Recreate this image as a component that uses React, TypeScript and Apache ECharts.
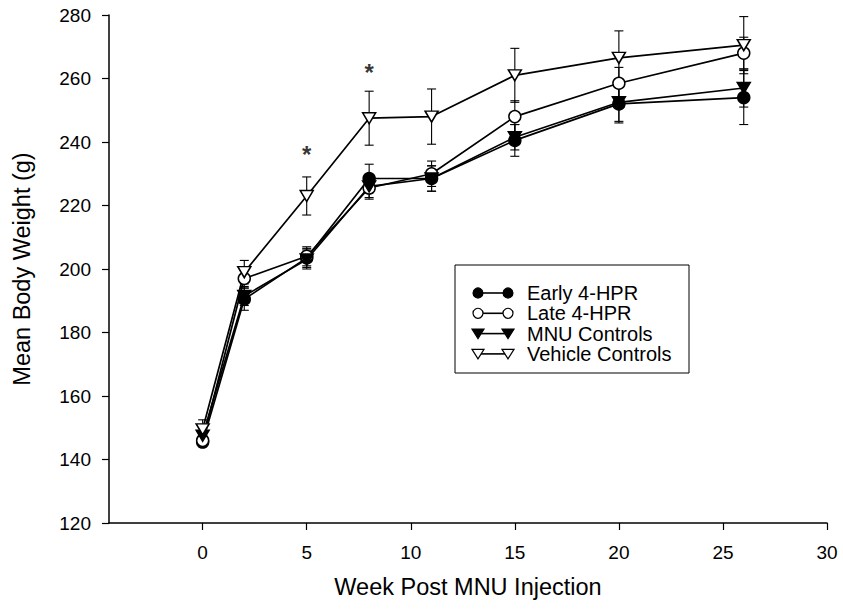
import React, { useEffect, useRef } from 'react';
import * as echarts from 'echarts';

// Weeks post MNU injection
const weeks = [0, 2, 5, 8, 11, 15, 20, 26];

// Mean body weight (g) and error bar half-lengths
const early = [145.5, 190.5, 203.5, 228.5, 228.5, 240.5, 252, 254];
const earlyErr = [1.5, 3.5, 3, 4.5, 4, 5, 6, 8.5];
const late = [146, 197, 204, 225.5, 230, 248, 258.5, 268];
const lateErr = [1.5, 3, 3, 3.5, 4, 5, 5, 5];
const mnu = [147.5, 191.5, 203, 226, 228.5, 241.5, 252.5, 257];
const mnuErr = [1.5, 3, 3, 3.5, 4, 4, 6, 6];
const vehicle = [149.5, 199, 223, 247.5, 248, 261, 266.5, 270.5];
const vehicleErr = [3, 3.7, 6, 8.5, 8.7, 8.5, 8.5, 9];

// Significance markers
const starWeeks = [5, 8];
const starLevels = [236, 262];

// Axis ticks
const xTicks = [0, 5, 10, 15, 20, 25, 30];
const yMin = 120;
const yMax = 280;
const yStep = 20;

const seriesNames = ['Early 4-HPR', 'Late 4-HPR', 'MNU Controls', 'Vehicle Controls'];

export default function App() {
  const ref = useRef<HTMLDivElement>(null);

  useEffect(() => {
    document.body.style.margin = '0';
    const chart = echarts.init(ref.current!, null, { renderer: 'svg' });
    const font = 'Liberation Sans, Arial, Helvetica, sans-serif';

    const groups = [
      { name: seriesNames[0], vals: early, errs: earlyErr, tri: false, fill: '#000' },
      { name: seriesNames[1], vals: late, errs: lateErr, tri: false, fill: '#fff' },
      { name: seriesNames[2], vals: mnu, errs: mnuErr, tri: true, fill: '#000' },
      { name: seriesNames[3], vals: vehicle, errs: vehicleErr, tri: true, fill: '#fff' },
    ];

    const errSeries = groups.map((g) => ({
      type: 'custom',
      name: g.name + ' error',
      z: 1,
      silent: true,
      encode: { x: 0, y: 1 },
      data: weeks.map((w, i) => [w, g.vals[i], g.errs[i]]),
      renderItem: (_params: any, api: any) => {
        const x = api.value(0);
        const y = api.value(1);
        const e = api.value(2);
        const top = api.coord([x, y + e]);
        const bot = api.coord([x, y - e]);
        const half = 4.5;
        const st = { stroke: '#000', lineWidth: 1.1 };
        return {
          type: 'group',
          children: [
            { type: 'line', shape: { x1: top[0], y1: top[1], x2: bot[0], y2: bot[1] }, style: st },
            { type: 'line', shape: { x1: top[0] - half, y1: top[1], x2: top[0] + half, y2: top[1] }, style: st },
            { type: 'line', shape: { x1: bot[0] - half, y1: bot[1], x2: bot[0] + half, y2: bot[1] }, style: st },
          ],
        };
      },
    }));

    const lineSeries = groups.map((g) => ({
      type: 'line',
      name: g.name,
      z: 3,
      data: weeks.map((w, i) => [w, g.vals[i]]),
      symbol: g.tri ? 'triangle' : 'circle',
      symbolSize: g.tri ? [13, 11] : 12,
      symbolRotate: g.tri ? 180 : 0,
      showSymbol: true,
      lineStyle: { color: '#000', width: 1.7 },
      itemStyle: { color: g.fill, borderColor: '#000', borderWidth: 1.5 },
    }));

    const starSeries = {
      type: 'scatter',
      name: 'significance',
      z: 4,
      silent: true,
      data: starWeeks.map((w, i) => [w, starLevels[i]]),
      symbolSize: 1,
      itemStyle: { color: 'rgba(0,0,0,0)' },
      label: {
        show: true,
        position: 'inside',
        formatter: '*',
        fontSize: 24,
        fontWeight: 'bold',
        fontFamily: font,
        color: '#000',
      },
    };

    // Legend built from graphic elements
    const lx0 = 455, ly0 = 265, lw = 234, lh = 108;
    const rowY0 = 293, rowStep = 20.3;
    const symL = 478, symR = 508, textX = 527;
    const legendChildren: any[] = [
      {
        type: 'rect',
        shape: { x: lx0, y: ly0, width: lw, height: lh },
        style: { fill: '#fff', stroke: '#000', lineWidth: 1 },
      },
    ];
    groups.forEach((g, i) => {
      const cy = rowY0 + i * rowStep;
      legendChildren.push({
        type: 'line',
        shape: { x1: symL, y1: cy, x2: symR, y2: cy },
        style: { stroke: '#000', lineWidth: 1.6 },
      });
      [symL, symR].forEach((cx) => {
        if (g.tri) {
          legendChildren.push({
            type: 'polygon',
            shape: { points: [[cx - 6, cy - 4.5], [cx + 6, cy - 4.5], [cx, cy + 5]] },
            style: { fill: g.fill, stroke: '#000', lineWidth: 1.2 },
          });
        } else {
          legendChildren.push({
            type: 'circle',
            shape: { cx, cy, r: 5 },
            style: { fill: g.fill, stroke: '#000', lineWidth: 1.2 },
          });
        }
      });
      legendChildren.push({
        type: 'text',
        x: textX,
        y: cy,
        style: {
          text: g.name,
          fontSize: 20,
          fontFamily: font,
          fill: '#000',
          verticalAlign: 'middle',
          align: 'left',
        },
      });
    });

    chart.setOption({
      animation: false,
      backgroundColor: '#fff',
      grid: { left: 109, right: 16, top: 15, bottom: 86 },
      xAxis: {
        type: 'value',
        min: -4.5,
        max: 30,
        name: 'Week Post MNU Injection',
        nameLocation: 'middle',
        nameGap: 52,
        nameTextStyle: { fontSize: 23.5, fontFamily: font, color: '#000' },
        splitLine: { show: false },
        axisLine: { show: true, onZero: false, lineStyle: { color: '#000', width: 1.5 } },
        axisTick: { show: true, length: 7, customValues: xTicks, lineStyle: { color: '#000', width: 1.2 } },
        axisLabel: {
          customValues: xTicks,
          fontSize: 19,
          fontFamily: font,
          color: '#000',
          margin: 20,
        },
      },
      yAxis: {
        type: 'value',
        min: yMin,
        max: yMax,
        interval: yStep,
        name: 'Mean Body Weight (g)',
        nameLocation: 'middle',
        nameGap: 75,
        nameTextStyle: { fontSize: 23.5, fontFamily: font, color: '#000' },
        splitLine: { show: false },
        axisLine: { show: true, onZero: false, lineStyle: { color: '#000', width: 1.5 } },
        axisTick: { show: true, length: 7, lineStyle: { color: '#000', width: 1.2 } },
        axisLabel: { fontSize: 19, fontFamily: font, color: '#000', margin: 18 },
      },
      graphic: [{ type: 'group', children: legendChildren }],
      series: [...errSeries, ...lineSeries, starSeries],
    });

    return () => chart.dispose();
  }, []);

  return (
    <div
      ref={ref}
      style={{ position: 'fixed', left: 0, top: 0, width: 843, height: 609, background: '#fff' }}
    />
  );
}
